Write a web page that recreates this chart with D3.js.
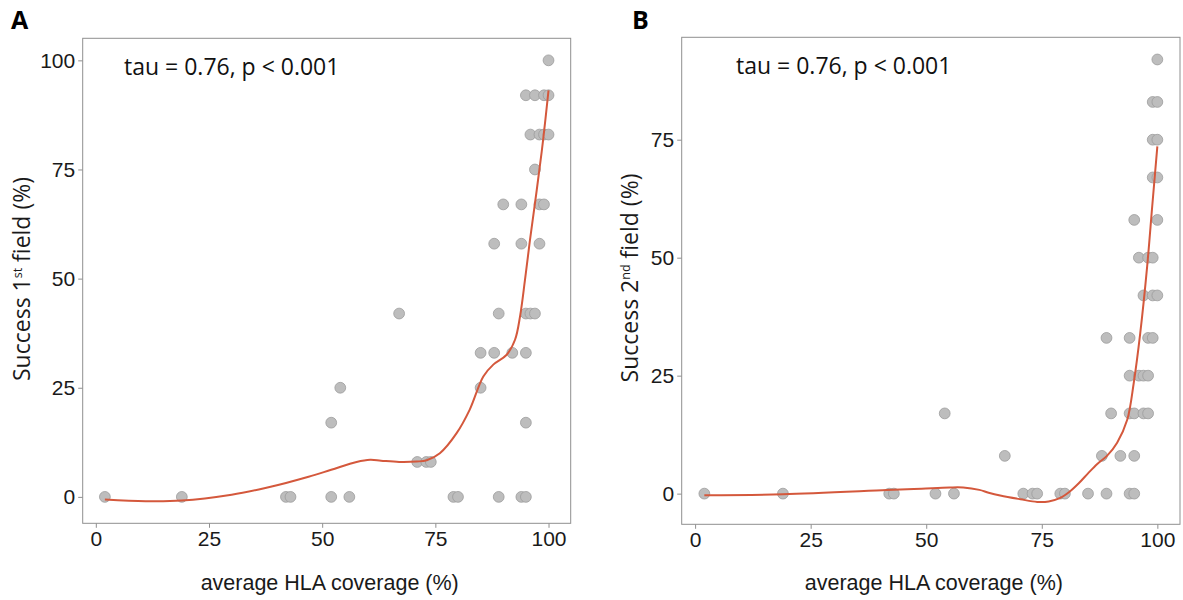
<!DOCTYPE html>
<html>
<head>
<meta charset="utf-8">
<script src="https://cdn.jsdelivr.net/npm/d3@7"></script>
<style>
  html, body { margin: 0; padding: 0; background: #ffffff; }
  svg { display: block; }
</style>
</head>
<body>
<svg id="chart" width="1183" height="600"></svg>
<script>
// ---------------- data ----------------
const xTicks = [0, 25, 50, 75, 100];
const yTicksA = [0, 25, 50, 75, 100];
const yTicksB = [0, 25, 50, 75];

const panelLetters = ["A", "B"];
const annotation = "tau = 0.76, p < 0.001";
const xTitle = "average HLA coverage (%)";

// Panel A: average HLA coverage (%) vs success 1st field (%)
const coverageA = [2, 19, 42, 43, 52, 56, 79, 80, 89, 94, 95,
                   71, 73, 74,
                   52, 95,
                   54, 85,
                   85, 88, 92, 95,
                   67, 89, 95, 96, 97,
                   88, 94, 98,
                   90, 94, 98, 99,
                   97,
                   96, 98, 99, 100,
                   95, 97, 99, 100,
                   100];
const successA = [0, 0, 0, 0, 0, 0, 0, 0, 0, 0, 0,
                  8, 8, 8,
                  17, 17,
                  25, 25,
                  33, 33, 33, 33,
                  42, 42, 42, 42, 42,
                  58, 58, 58,
                  67, 67, 67, 67,
                  75,
                  83, 83, 83, 83,
                  92, 92, 92, 92,
                  100];

// Panel B: average HLA coverage (%) vs success 2nd field (%)
const coverageB = [2, 19, 42, 43, 52, 56, 71, 73, 74, 79, 80, 85, 89, 94, 95,
                   67, 88, 92, 95,
                   54, 90, 94, 95, 97, 98,
                   94, 96, 97, 98,
                   89, 94, 98, 99,
                   97, 99, 100,
                   96, 98, 99,
                   95, 100,
                   99, 100,
                   99, 100,
                   99, 100,
                   100];
const successB = [0, 0, 0, 0, 0, 0, 0, 0, 0, 0, 0, 0, 0, 0, 0,
                  8, 8, 8, 8,
                  17, 17, 17, 17, 17, 17,
                  25, 25, 25, 25,
                  33, 33, 33, 33,
                  42, 42, 42,
                  50, 50, 50,
                  58, 58,
                  67, 67,
                  75, 75,
                  83, 83,
                  92];

// Smoothed (loess) trend lines
const smoothXA = [2, 11, 19, 30, 36, 42, 47, 52, 57.6, 60.6, 63, 67, 70.9, 73.1, 76, 79.7, 82.6, 85.6, 87.8, 90.7, 92.6, 93.7, 94.8, 95.9, 97.4, 98.8, 100];
const smoothYA = [-0.6, -1.0, -0.85, 0.5, 1.7, 3.2, 4.6, 6.2, 8.0, 8.5, 8.3, 8.0, 8.1, 8.4, 10, 14.6, 20, 27.6, 30.3, 32.5, 36, 41.3, 49.7, 58.8, 70.3, 81.7, 93.1];

const smoothXB = [2, 19, 41.5, 49, 55, 58, 61.5, 63.5, 66, 70.4, 74, 76.5, 79, 81, 83, 85, 87, 89.1, 91.3, 93.5, 94.9, 96.3, 97.8, 98.9, 100];
const smoothYB = [-0.35, -0.15, 0.75, 1.05, 1.3, 1.3, 0.8, 0.2, -0.4, -1.2, -1.75, -1.65, -0.9, 0.4, 2.2, 4.3, 6.3, 8.0, 10.8, 15.7, 23.5, 34, 48.2, 61, 73.6];

// ---------------- drawing ----------------
const svg = d3.select("#chart");
svg.append("rect").attr("width", 1183).attr("height", 600).attr("fill", "#ffffff");

const humanist = "'Open Sans', 'Noto Sans', sans-serif";
const arial = "'Liberation Sans', Arial, sans-serif";
const borderColor = "#8f8f8f";
const pointFill = "#bdbdbd";
const pointStroke = "#9c9c9c";
const lineColor = "#d4583c";

const panels = [
  {
    letter: panelLetters[0], xs: coverageA, ys: successA, sx: smoothXA, sy: smoothYA,
    yTicks: yTicksA,
    x: d3.scaleLinear().domain([-2.9, 104.9]).range([82.7, 570.7]),
    y: d3.scaleLinear().domain([-6.05, 105.05]).range([523.3, 38.3]),
    yLabel: ["Success 1", "st", " field (%)"],
    letterPos: [11, 28.7], annPos: [124, 74.5], yTitlePos: [30, 279]
  },
  {
    letter: panelLetters[1], xs: coverageB, ys: successB, sx: smoothXB, sy: smoothYB,
    yTicks: yTicksB,
    x: d3.scaleLinear().domain([-2.9, 104.9]).range([681.7, 1180]),
    y: d3.scaleLinear().domain([-6.5, 96.7]).range([524.3, 37.3]),
    yLabel: ["Success 2", "nd", " field (%)"],
    letterPos: [632, 28.7], annPos: [736, 73.5], yTitlePos: [638, 278]
  }
];

panels.forEach(p => {
  const [x0, x1] = p.x.range();
  const [y1, y0] = p.y.range();
  const g = svg.append("g");

  // axes
  const xAxis = g.append("g")
    .attr("transform", `translate(0,${y1})`)
    .call(d3.axisBottom(p.x).tickValues(xTicks).tickSize(4.5).tickPadding(3.5).tickFormat(d3.format("d")));
  const yAxis = g.append("g")
    .attr("transform", `translate(${x0},0)`)
    .call(d3.axisLeft(p.y).tickValues(p.yTicks).tickSize(4.5).tickPadding(3).tickFormat(d3.format("d")));
  [xAxis, yAxis].forEach(a => {
    a.select(".domain").remove();
    a.selectAll(".tick line").attr("stroke", borderColor).attr("stroke-width", 1);
    a.selectAll(".tick text")
      .attr("fill", "#1a1a1a")
      .style("font-family", arial)
      .style("font-size", "21px");
  });

  // panel border
  g.append("rect")
    .attr("x", x0).attr("y", y0)
    .attr("width", x1 - x0).attr("height", y1 - y0)
    .attr("fill", "none")
    .attr("stroke", borderColor)
    .attr("stroke-width", 1);

  // points
  const pts = p.xs.map((v, i) => ({ x: v, y: p.ys[i] }));
  g.append("g").selectAll("circle")
    .data(pts).join("circle")
    .attr("cx", d => p.x(d.x))
    .attr("cy", d => p.y(d.y))
    .attr("r", 5.4)
    .attr("fill", pointFill)
    .attr("stroke", pointStroke)
    .attr("stroke-width", 0.8);

  // smooth line
  const sm = p.sx.map((v, i) => ({ x: v, y: p.sy[i] }));
  g.append("path")
    .datum(sm)
    .attr("d", d3.line().x(d => p.x(d.x)).y(d => p.y(d.y)).curve(d3.curveCatmullRom.alpha(0.5)))
    .attr("fill", "none")
    .attr("stroke", lineColor)
    .attr("stroke-width", 2);

  // annotation
  g.append("text")
    .attr("x", p.annPos[0]).attr("y", p.annPos[1])
    .attr("fill", "#111")
    .style("font-family", humanist)
    .style("font-size", "23px")
    .text(annotation);

  // panel letter
  g.append("text")
    .attr("x", p.letterPos[0]).attr("y", p.letterPos[1])
    .attr("fill", "#000")
    .style("font-family", humanist)
    .style("font-weight", "bold")
    .style("font-size", "25px")
    .text(p.letter);

  // x title
  g.append("text")
    .attr("x", (x0 + x1) / 2 + 3).attr("y", 590)
    .attr("text-anchor", "middle")
    .attr("fill", "#1a1a1a")
    .style("font-family", arial)
    .style("font-size", "21.5px")
    .text(xTitle);

  // y title with superscript
  const yt = g.append("text")
    .attr("transform", `translate(${p.yTitlePos[0]},${p.yTitlePos[1]}) rotate(-90)`)
    .attr("text-anchor", "middle")
    .attr("fill", "#1a1a1a")
    .style("font-family", humanist)
    .style("font-size", "23px");
  yt.append("tspan").text(p.yLabel[0]);
  yt.append("tspan").attr("dy", -8).style("font-size", "12.5px").text(p.yLabel[1]);
  yt.append("tspan").attr("dy", 8).text(p.yLabel[2]);
});
</script>
</body>
</html>
